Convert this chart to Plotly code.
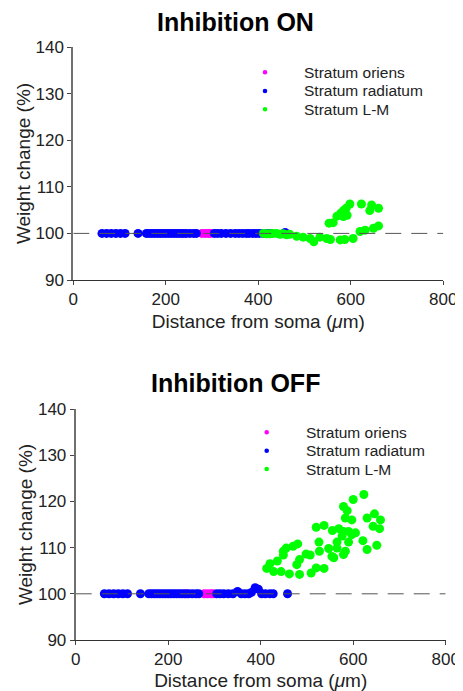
import plotly.graph_objects as go

# ---------------- data ----------------
oriens_x = [240, 278, 285, 292, 297]
oriens_y_on = [100, 100, 100, 100, 100]
oriens_y_off = [100, 100, 100, 100, 100]

radiatum_x = [62, 72, 82, 92, 102, 112, 140, 158, 164, 170, 176, 182, 188, 194, 200,
              206, 212, 218, 224, 230, 236, 244, 252, 260, 266, 305, 312, 320, 330,
              340, 350, 358, 366, 374, 380, 388, 395, 402, 410, 420, 427, 458]
radiatum_y_on = [100] * 41 + [100.2]
radiatum_y_off = [100, 100, 100, 100, 100, 100, 100, 100, 100, 100, 100, 100, 100, 100, 100,
                  100, 100, 100, 100, 100, 100, 100, 100, 100, 100, 100, 100, 100, 100,
                  100, 100.5, 100, 100, 100, 100.3, 101.3, 101.0, 100, 100, 100, 100, 100]

lm_x_on = [411, 418, 425, 432, 440, 447, 454, 461, 468, 483, 497, 512, 520, 533, 548,
           556, 577, 587, 605, 620, 631, 649, 660, 553, 562, 570, 578, 584, 590, 598,
           592, 584, 623, 645, 660, 641]
lm_y_on = [100.0, 99.9, 99.9, 100.0, 100.0, 99.8, 99.9, 99.7, 99.8, 99.4, 99.2, 98.9, 98.2,
           99.2, 98.9, 98.7, 98.6, 98.7, 98.9, 100.4, 100.7, 101.1, 101.6, 102.2, 102.3,
           103.7, 104.3, 104.9, 105.4, 106.3, 103.9, 103.6, 106.3, 106.1, 105.4, 104.9]

lm_x_off = [623, 600, 579, 587, 646, 630, 659, 597, 583, 643, 657, 520, 537, 555, 569,
            579, 590, 605, 576, 597, 621, 565, 590, 651, 630, 480, 470, 455, 449, 526,
            547, 565, 583, 527, 498, 507, 449, 484, 554, 579, 436, 420, 413, 428, 444,
            462, 484, 509, 520, 537, 478, 558]
lm_y_off = [121.5, 120.4, 118.9, 118.0, 117.3, 116.4, 116.0, 116.0, 116.4, 114.6, 114.1,
            114.4, 114.8, 113.7, 114.1, 113.5, 113.5, 113.2, 112.5, 112.8, 111.5, 111.2,
            111.2, 110.5, 109.6, 110.8, 110.3, 109.9, 109.2, 111.2, 109.8, 109.9, 109.2,
            109.2, 108.6, 108.4, 108.4, 107.4, 108.1, 108.5, 107.1, 106.5, 105.5, 104.8,
            104.8, 104.3, 104.2, 104.5, 105.6, 105.5, 106.3, 107.8]

ref_x = [0, 800]
ref_y = [100, 100]

titles = ["Inhibition ON", "Inhibition OFF"]
legend_names = ["Stratum oriens", "Stratum radiatum", "Stratum L-M"]
colors = ["#ff00ff", "#0000ff", "#00ff00"]
x_ticks = [0, 200, 400, 600, 800]
y_ticks = [90, 100, 110, 120, 130, 140]

FONT = "Liberation Sans, Arial, sans-serif"
W, H = 455, 683  # page has an 8px body margin


def px_x(p):
    return p / W


def px_y(p):
    return 1 - p / H


fig = go.Figure()

panels = [
    ("x", "y", oriens_y_on, radiatum_y_on, lm_x_on, lm_y_on),
    ("x2", "y2", oriens_y_off, radiatum_y_off, lm_x_off, lm_y_off),
]

for xa, ya, oy, ry, lx, ly in panels:
    data = [(oriens_x, oy), (radiatum_x, ry), (lx, ly)]
    for (dx, dy), c, nm in zip(data, colors, legend_names):
        fig.add_trace(go.Scatter(x=dx, y=dy, mode="markers", xaxis=xa, yaxis=ya, name=nm,
                                 marker=dict(color=c, size=9, line=dict(width=0)),
                                 showlegend=False, hoverinfo="skip"))
    fig.add_trace(go.Scatter(x=ref_x, y=ref_y, mode="lines", xaxis=xa, yaxis=ya,
                             line=dict(color="#555555", width=1, dash="16px,10px"),
                             showlegend=False, hoverinfo="skip"))

axis_common = dict(showgrid=False, zeroline=False, ticks="outside", ticklen=4,
                   tickcolor="#444444", tickfont=dict(size=17, color="#222222", family=FONT),
                   showline=True, automargin=False)


def xax(dom, anchor):
    return dict(domain=dom, anchor=anchor, range=[0, 800], tickvals=x_ticks,
                linecolor="#333333", linewidth=1,
                title=dict(text="Distance from soma (<i>μ</i>m)",
                           font=dict(size=19, color="#222222", family=FONT), standoff=6),
                **axis_common)


def yax(dom, anchor):
    return dict(domain=dom, anchor=anchor, range=[90, 140], tickvals=y_ticks,
                linecolor="#707070", linewidth=2,
                title=dict(text="Weight change (%)",
                           font=dict(size=19, color="#222222", family=FONT), standoff=0),
                **axis_common)


annotations = [
    dict(text="<b>%s</b>" % titles[0], x=px_x(227), y=px_y(14), xref="paper", yref="paper",
         showarrow=False, font=dict(size=25, color="black", family=FONT),
         xanchor="center", yanchor="middle"),
    dict(text="<b>%s</b>" % titles[1], x=px_x(227), y=px_y(375), xref="paper", yref="paper",
         showarrow=False, font=dict(size=25, color="black", family=FONT),
         xanchor="center", yanchor="middle"),
]
shapes = []

legend_layout = [
    (257, 294, [64.3, 83, 101.3]),
    (258.7, 296, [424.3, 442.7, 461]),
]
for dot_x, text_x, rows in legend_layout:
    for name, c, ry in zip(legend_names, colors, rows):
        annotations.append(dict(text=name, x=px_x(text_x), y=px_y(ry), xref="paper", yref="paper",
                                showarrow=False, xanchor="left", yanchor="middle",
                                font=dict(size=15.5, color="#222222", family=FONT)))
        shapes.append(dict(type="circle", xref="paper", yref="paper",
                           xsizemode="pixel", ysizemode="pixel",
                           xanchor=px_x(dot_x), yanchor=px_y(ry),
                           x0=-2.3, x1=2.3, y0=-2.3, y1=2.3,
                           fillcolor=c, line=dict(width=0)))

fig.update_layout(
    width=W, height=H,
    margin=dict(l=0, r=0, t=0, b=0),
    paper_bgcolor="white", plot_bgcolor="white",
    font=dict(family=FONT, color="#222222"),
    showlegend=False,
    xaxis=xax([px_x(65.3), px_x(435.3)], "y"),
    yaxis=yax([px_y(272), px_y(39)], "x"),
    xaxis2=xax([px_x(67.7), px_x(437.7)], "y2"),
    yaxis2=yax([px_y(632), px_y(401)], "x2"),
    annotations=annotations,
    shapes=shapes,
)

fig.write_html("out.html")
